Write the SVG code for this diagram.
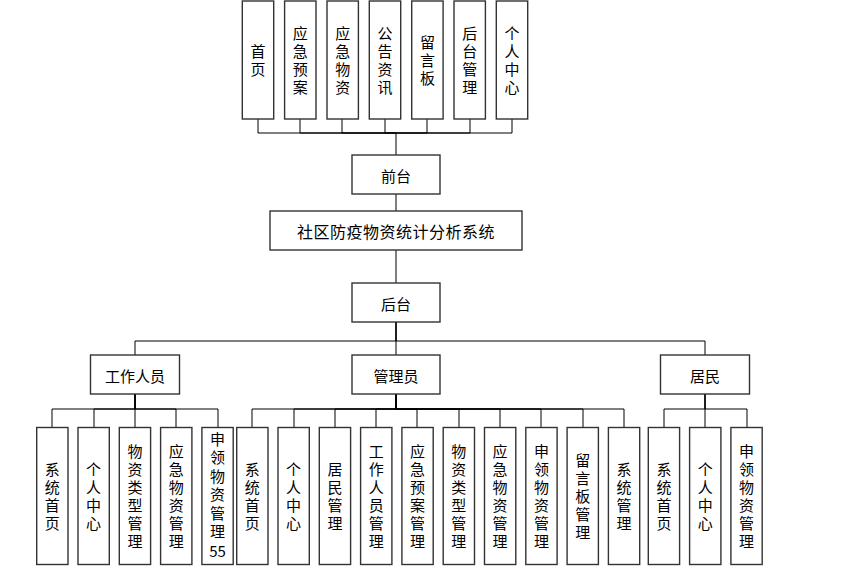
<svg xmlns="http://www.w3.org/2000/svg" width="844" height="568" viewBox="0 0 844 568">
<style>
.box{fill:#fff;stroke:#333;stroke-width:1.4}
.t{font-family:"Noto Sans CJK SC","Liberation Sans",sans-serif;font-size:15px;fill:#000;text-anchor:middle;dominant-baseline:central}
.v{font-family:"Noto Sans CJK SC","Liberation Sans",sans-serif;font-size:15px;fill:#000;text-anchor:middle;writing-mode:vertical-rl;letter-spacing:3px}
.title{font-size:16px;letter-spacing:0.5px}
.c{fill:none;stroke:#000;stroke-width:1}
</style>
<rect width="844" height="568" fill="#fff"/>
<g id="connectors">
<path class="c" d="M258 119V133H396V155M300 119V133H396M342 119V133H396M385 119V133H396M427 119V133H396M470 119V133H396M512 119V133H396"/>
<path class="c" d="M396 194V211M396 250V283"/>
<path class="c" d="M396 322V341H135V355M396 322V341H396V355M396 322V341H705V355"/>
<path class="c" d="M135 394V409H52V427M135 394V409H94V427M135 394V409H135V427M135 394V409H176V427M135 394V409H218V427"/>
<path class="c" d="M396 394V409H252V427M396 394V409H294V427M396 394V409H335V427M396 394V409H376V427M396 394V409H417V427M396 394V409H459V427M396 394V409H500V427M396 394V409H541V427M396 394V409H583V427M396 394V409H624V427"/>
<path class="c" d="M705 394V409H664V427M705 394V409H705V427M705 394V409H747V427"/>
</g>
<g id="top-1"><rect class="box" x="242.3" y="1" width="31.4" height="118"/><text class="v" x="258" y="61.5">首页</text></g>
<g id="top-2"><rect class="box" x="284.6" y="1" width="31.4" height="118"/><text class="v" x="300.3" y="61.5">应急预案</text></g>
<g id="top-3"><rect class="box" x="327" y="1" width="31.4" height="118"/><text class="v" x="342.7" y="61.5">应急物资</text></g>
<g id="top-4"><rect class="box" x="369.3" y="1" width="31.4" height="118"/><text class="v" x="385" y="61.5">公告资讯</text></g>
<g id="top-5"><rect class="box" x="411.7" y="1" width="31.4" height="118"/><text class="v" x="427.4" y="61.5">留言板</text></g>
<g id="top-6"><rect class="box" x="454" y="1" width="31.4" height="118"/><text class="v" x="469.7" y="61.5">后台管理</text></g>
<g id="top-7"><rect class="box" x="496.3" y="1" width="31.4" height="118"/><text class="v" x="512" y="61.5">个人中心</text></g>
<g id="frontend"><rect class="box" x="352" y="155" width="88" height="39"/><text class="t" x="396" y="175">前台</text></g>
<g id="system"><rect class="box" x="270" y="211" width="252" height="39"/><text class="t title" x="396" y="230.5">社区防疫物资统计分析系统</text></g>
<g id="backend"><rect class="box" x="352" y="283" width="88" height="39"/><text class="t" x="396" y="303">后台</text></g>
<g id="worker"><rect class="box" x="90.5" y="355" width="89" height="39"/><text class="t" x="135" y="375">工作人员</text></g>
<g id="admin"><rect class="box" x="352" y="355" width="88" height="39"/><text class="t" x="396" y="375">管理员</text></g>
<g id="resident"><rect class="box" x="660.5" y="355" width="89" height="39"/><text class="t" x="705" y="375">居民</text></g>
<g id="w1"><rect class="box" x="36.7" y="427.5" width="31.3" height="137"/><text class="v" x="52.3" y="497.5">系统首页</text></g>
<g id="w2"><rect class="box" x="78" y="427.5" width="31.3" height="137"/><text class="v" x="93.6" y="497.5">个人中心</text></g>
<g id="w3"><rect class="box" x="119.3" y="427.5" width="31.3" height="137"/><text class="v" x="134.9" y="497.5">物资类型管理</text></g>
<g id="w4"><rect class="box" x="160.6" y="427.5" width="31.3" height="137"/><text class="v" x="176.2" y="497.5">应急物资管理</text></g>
<g id="w5"><rect class="box" x="201.9" y="427.5" width="31.3" height="137"/><text class="v" x="217.5" y="487" style="letter-spacing:3.5px">申领物资管理</text><text class="t" x="217.5" y="550">55</text></g>
<g id="m1"><rect class="box" x="236.7" y="427.5" width="31.3" height="137"/><text class="v" x="252.3" y="497.5">系统首页</text></g>
<g id="m2"><rect class="box" x="278" y="427.5" width="31.3" height="137"/><text class="v" x="293.6" y="497.5">个人中心</text></g>
<g id="m3"><rect class="box" x="319.3" y="427.5" width="31.3" height="137"/><text class="v" x="334.9" y="497.5">居民管理</text></g>
<g id="m4"><rect class="box" x="360.6" y="427.5" width="31.3" height="137"/><text class="v" x="376.2" y="497.5">工作人员管理</text></g>
<g id="m5"><rect class="box" x="401.9" y="427.5" width="31.3" height="137"/><text class="v" x="417.5" y="497.5">应急预案管理</text></g>
<g id="m6"><rect class="box" x="443.2" y="427.5" width="31.3" height="137"/><text class="v" x="458.8" y="497.5">物资类型管理</text></g>
<g id="m7"><rect class="box" x="484.5" y="427.5" width="31.3" height="137"/><text class="v" x="500.1" y="497.5">应急物资管理</text></g>
<g id="m8"><rect class="box" x="525.8" y="427.5" width="31.3" height="137"/><text class="v" x="541.4" y="497.5">申领物资管理</text></g>
<g id="m9"><rect class="box" x="567.1" y="427.5" width="31.3" height="137"/><text class="v" x="582.7" y="497.5">留言板管理</text></g>
<g id="m10"><rect class="box" x="608.4" y="427.5" width="31.3" height="137"/><text class="v" x="624" y="497.5">系统管理</text></g>
<g id="r1"><rect class="box" x="648.3" y="427.5" width="31.3" height="137"/><text class="v" x="663.9" y="497.5">系统首页</text></g>
<g id="r2"><rect class="box" x="689.6" y="427.5" width="31.3" height="137"/><text class="v" x="705.2" y="497.5">个人中心</text></g>
<g id="r3"><rect class="box" x="730.9" y="427.5" width="31.3" height="137"/><text class="v" x="746.5" y="497.5">申领物资管理</text></g>
</svg>
